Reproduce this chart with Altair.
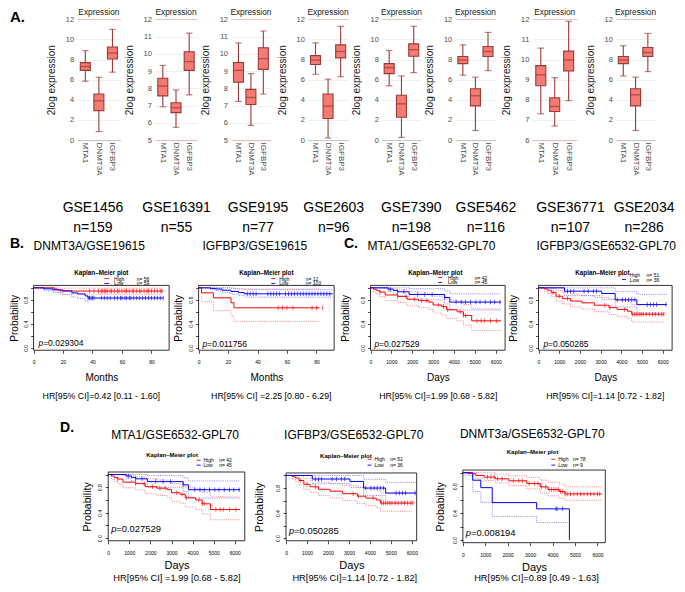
import altair as alt
import pandas as pd

# ============================ DATA ============================
genes = ["MTA1", "DNMT3A", "IGFBP3"]
gse_names = ["GSE1456", "GSE16391", "GSE9195", "GSE2603", "GSE7390", "GSE5462", "GSE36771", "GSE2034"]
gse_n = [159, 55, 77, 96, 198, 116, 107, 286]
y_floor = [0, 5, 5, 0, 0, 0, 6, 0]
# per dataset: values for [MTA1, DNMT3A, IGFBP3]
whisker_low = [[5.85, 0.85, 6.75], [6.93, 5.74, 7.62], [7.24, 5.85, 7.67], [6.54, 0.2, 6.3],
               [5.39, 0.27, 6.7], [6.45, 0.95, 6.9], [7.3, 6.7, 7.96], [6.37, 0.95, 6.8]]
box_q1 = [[6.93, 2.93, 8.05], [7.56, 6.59, 9.04], [8.36, 7.06, 9.1], [7.51, 2.15, 8.17],
          [6.6, 2.27, 8.33], [7.6, 3.4, 8.3], [8.7, 7.42, 9.44], [7.6, 3.4, 8.3]]
box_median = [[7.3, 3.9, 8.65], [8.13, 6.88, 9.55], [9.04, 7.47, 9.72], [7.95, 3.37, 8.8],
              [7.2, 3.6, 8.98], [7.95, 4.4, 8.8], [9.24, 7.67, 9.98], [7.95, 4.5, 8.7]]
box_q3 = [[7.7, 4.58, 9.25], [8.58, 7.16, 10.12], [9.5, 7.94, 10.35], [8.39, 4.58, 9.46],
          [7.6, 4.45, 9.56], [8.3, 5.1, 9.3], [9.7, 8.1, 10.42], [8.3, 5.1, 9.2]]
whisker_high = [[8.88, 6.24, 11.0], [9.33, 7.9, 11.2], [10.63, 8.85, 11.32], [9.66, 6.05, 11.3],
                [8.9, 6.37, 11.3], [9.46, 6.25, 10.7], [10.57, 9.1, 11.9], [9.37, 6.25, 10.6]]

# ---- Kaplan-Meier curves (time, survival, CI lower, CI upper, censor times) ----
# DNMT3A / GSE19615 (months)
b1_high_t = [0, 14, 16, 18, 88]
b1_high_s = [1.0, 0.982, 0.964, 0.946, 0.946]
b1_high_lo = [1.0, 0.95, 0.92, 0.895, 0.895]
b1_high_up = [1.0, 1.0, 1.0, 0.995, 0.995]
b1_high_cens = [38, 41, 44, 46, 47, 48, 49, 50, 52, 53, 55, 57, 58, 60, 62, 63, 65, 67, 68, 70,
                72, 73, 75, 77, 78, 80, 82, 84, 86, 87]
b1_low_t = [0, 7, 13, 20, 26, 30, 35, 37, 88]
b1_low_s = [1.0, 0.983, 0.966, 0.949, 0.915, 0.898, 0.864, 0.83, 0.83]
b1_low_ci_t = [0, 7, 13, 20, 26, 30, 35, 37]
b1_low_lo = [1.0, 0.95, 0.92, 0.89, 0.845, 0.82, 0.78, 0.74]
b1_low_cens = [37, 38, 39, 40, 41, 46, 48, 50, 52, 55, 57, 59, 60, 62, 63, 65, 66, 68, 70, 72,
               74, 76, 78, 80, 82, 84, 86, 88]
# IGFBP3 / GSE19615 (months)
b2_high_t = [0, 2, 10, 22, 24, 82]
b2_high_s = [1.0, 0.917, 0.833, 0.75, 0.667, 0.667]
b2_high_lo = [1.0, 0.77, 0.62, 0.53, 0.44, 0.44]
b2_high_up = [1.0, 1.0, 1.0, 1.0, 0.98, 0.98]
b2_high_cens = [54, 57, 60, 64, 77, 80, 84]
b2_low_t = [0, 8, 12, 16, 22, 27, 31, 91]
b2_low_s = [1.0, 0.99, 0.98, 0.96, 0.94, 0.92, 0.90, 0.90]
b2_low_lo = [1.0, 0.97, 0.95, 0.92, 0.895, 0.87, 0.845, 0.845]
b2_low_up = [1.0, 1.0, 1.0, 1.0, 0.99, 0.98, 0.97, 0.97]
b2_low_cens = [33, 35, 37, 39, 47, 49, 51, 53, 55, 59, 61, 63, 65, 67, 69, 71, 73, 75, 77, 79,
               81, 83, 85, 87, 89]
# MTA1 / GSE6532-GPL70 (days)
m_high_t = [0, 150, 300, 450, 700, 1300, 1750, 2300, 2800, 3000, 3400, 3650, 4150, 4450, 4850, 6250]
m_high_s = [1.0, 0.976, 0.952, 0.929, 0.881, 0.857, 0.81, 0.786, 0.762, 0.714, 0.69, 0.635, 0.60,
            0.54, 0.45, 0.45]
m_high_lo = [1.0, 0.93, 0.89, 0.855, 0.79, 0.76, 0.70, 0.67, 0.64, 0.58, 0.55, 0.49, 0.45, 0.38,
             0.29, 0.29]
m_high_up = [1.0, 1.0, 1.0, 1.0, 0.98, 0.965, 0.935, 0.915, 0.895, 0.86, 0.84, 0.80, 0.77, 0.72,
             0.65, 0.65]
m_high_cens = [450, 1300, 1700, 2100, 2450, 2700, 3250, 3500, 3700, 4300, 4450, 4550, 5100, 5300,
               5450, 5750, 6050]
m_low_t = [0, 850, 1100, 1300, 1850, 3550, 3800, 6250]
m_low_s = [1.0, 0.978, 0.956, 0.933, 0.889, 0.838, 0.762, 0.762]
m_low_lo = [1.0, 0.935, 0.90, 0.865, 0.80, 0.73, 0.63, 0.63]
m_low_up = [1.0, 1.0, 1.0, 1.0, 0.985, 0.95, 0.90, 0.90]
m_low_cens = [950, 1300, 1600, 2250, 2600, 2950, 3550, 4100, 4350, 4550, 4800, 5050, 5250, 5500,
              5750, 5950, 6200]
# IGFBP3 / GSE6532-GPL70 (days)
g_high_t = [0, 300, 450, 620, 850, 1150, 1550, 2100, 2700, 3400, 3800, 4300, 4500, 6050]
g_high_s = [1.0, 0.98, 0.96, 0.92, 0.86, 0.82, 0.78, 0.75, 0.71, 0.67, 0.64, 0.61, 0.56, 0.56]
g_high_lo = [1.0, 0.94, 0.905, 0.85, 0.78, 0.73, 0.68, 0.645, 0.60, 0.555, 0.52, 0.485, 0.43, 0.43]
g_high_up = [1.0, 1.0, 1.0, 0.99, 0.955, 0.925, 0.895, 0.87, 0.84, 0.81, 0.785, 0.765, 0.72, 0.72]
g_high_cens = [700, 1000, 1400, 3200, 3450, 4150, 4550, 4650, 4750, 4850, 4950, 5050, 5200, 5350,
               5500, 5650, 5800, 5950, 6050]
g_low_t = [0, 1250, 3050, 3700, 4750, 6200]
g_low_s = [1.0, 0.944, 0.905, 0.80, 0.72, 0.72]
g_low_lo = [1.0, 0.87, 0.81, 0.68, 0.58, 0.58]
g_low_up = [1.0, 1.0, 1.0, 0.94, 0.89, 0.89]
g_low_cens = [1400, 1550, 1700, 2200, 2400, 2650, 2800, 3800, 4050, 4200, 4350, 4500, 4650, 5250,
              5400, 5550, 5700, 6150]
# DNMT3a / GSE6532-GPL70 (days)
d_high_t = [0, 250, 580, 950, 1450, 2050, 2850, 3450, 3800, 4300, 4550, 6200]
d_high_s = [1.0, 0.987, 0.96, 0.935, 0.91, 0.88, 0.84, 0.79, 0.75, 0.72, 0.685, 0.685]
d_high_lo = [1.0, 0.96, 0.92, 0.885, 0.85, 0.81, 0.76, 0.70, 0.655, 0.62, 0.59, 0.59]
d_high_up = [1.0, 1.0, 1.0, 1.0, 0.98, 0.955, 0.93, 0.89, 0.86, 0.83, 0.79, 0.79]
d_high_cens = [1100, 1250, 1400, 1550, 1750, 2250, 2500, 2650, 2950, 3200, 3350, 3500, 3700, 3850,
               3950, 4050, 4150, 4250, 4350, 4450, 4550, 4650, 4800, 4950, 5100, 5250, 5400, 5550,
               5700, 5850, 6000, 6100]
d_low_t = [0, 440, 800, 1310, 3290, 4750]
d_low_s = [1.0, 0.889, 0.778, 0.556, 0.463, 0.0]
d_low_lo = [1.0, 0.72, 0.56, 0.35, 0.26, 0.26]
d_low_cens = [4150, 4200, 4450]

km_headers = ["DNMT3A/GSE19615", "IGFBP3/GSE19615", "MTA1/GSE6532-GPL70", "IGFBP3/GSE6532-GPL70",
              "MTA1/GSE6532-GPL70", "IGFBP3/GSE6532-GPL70", "DNMT3a/GSE6532-GPL70"]
km_pvalues = ["0.029304", "0.011756", "0.027529", "0.050285", "0.027529", "0.050285", "0.008194"]
km_hr = ["HR[95% CI]=0.42 [0.11 - 1.60]", "HR[95% CI] =2.25 [0.80 - 6.29]",
         "HR[95% CI]=1.99 [0.68 - 5.82]", "HR[95% CI]=1.14 [0.72 - 1.82]",
         "HR[95% CI] =1.99 [0.68 - 5.82]", "HR[95% CI]=1.14 [0.72 - 1.82]",
         "HR[95% CI]=0.89 [0.49 - 1.63]"]
km_n_high = [56, 12, 42, 51, 42, 51, 78]
km_n_low = [59, 103, 45, 36, 45, 36, 9]
prob_ticks = [0, 0.2, 0.4, 0.6, 0.8, 1.0]
day_ticks = [0, 1000, 2000, 3000, 4000, 5000, 6000]
month_ticks = [0, 20, 40, 60, 80]

# ============================ LAYOUT / STYLE ============================
FONT = "Liberation Sans"
W, H = 669, 576
RED, BLUE = "#FF0000", "#0000FF"
RED_CI, BLUE_CI = "#FF6A6A", "#6A6AFF"
BOX_FILL, BOX_DARK = "#F47B74", "#9E3A36"
PINK = "#F3B3B0"


def X(v):
    return round(-1.96 + 0.9824 * v, 2)


def Y(v):
    return round(-2.45 + 0.982 * v, 2)


ONE = pd.DataFrame({"k": [0]})

box_left = [72.4, 151.5, 229, 307.3, 382.5, 457.3, 535.8, 620.8]
box_width = [44.2, 43, 40.5, 41, 40, 41, 45.4, 40]
gse_center = [88, 173, 256, 333, 412, 488, 574, 649]
BOX_TOP, BOX_BOT = 14, 137


def txt(text, x, y, size, weight="normal", style="normal", align="left", baseline="middle",
        color="#000000"):
    return alt.Chart(ONE).mark_text(
        text=text, align=align, baseline=baseline, fontSize=size, fontWeight=weight,
        fontStyle=style, color=color, font=FONT
    ).encode(x=alt.value(X(x)), y=alt.value(Y(y)))


def dash(x0, x1, y, color):
    return alt.Chart(ONE).mark_rule(color=color, strokeWidth=0.9).encode(
        x=alt.value(X(x0)), x2=alt.value(X(x1)), y=alt.value(Y(y)))


def box_panel(i):
    df = pd.DataFrame({"gene": genes, "lo": whisker_low[i], "q1": box_q1[i],
                       "med": box_median[i], "q3": box_q3[i], "hi": whisker_high[i]})
    L, Wd = box_left[i], box_width[i]

    def xs():
        return alt.Scale(type="band", domain=genes, range=[X(L), X(L + Wd)],
                         paddingInner=0, paddingOuter=0.1)

    def ys():
        return alt.Scale(domain=[y_floor[i], 12], range=[Y(BOX_BOT), Y(BOX_TOP)],
                         nice=False, zero=False)

    step = 2 if y_floor[i] == 0 else 1
    ticks = list(range(y_floor[i], 13, step))
    base_col = "#BDBDBD" if y_floor[i] == 0 else PINK
    xaxis = alt.Axis(orient="bottom", offset=round(Y(BOX_BOT) - H, 2), labelAngle=90,
                     labelAlign="left", labelBaseline="middle", labelFontSize=8,
                     labelColor="#4D4D4D", labelPadding=2, ticks=False, domain=True,
                     domainColor=base_col, domainWidth=0.9,
                     title=[gse_names[i], "n=%d" % gse_n[i]],
                     titleFontSize=14, titleFontWeight="normal", titleColor="#000000",
                     titleBaseline="top", titleLineHeight=20, titleX=X(gse_center[i]),
                     titleY=round(Y(199) - Y(BOX_BOT), 2), labelFont=FONT, titleFont=FONT)
    yaxis = alt.Axis(orient="left", offset=-X(L), values=ticks, grid=True,
                     gridColor={"condition": {"test": "datum.value == 12", "value": PINK},
                                "value": "#EBEBEB"},
                     gridWidth=0.8, ticks=False, domain=False, labelFontSize=7.5,
                     labelColor="#4D4D4D", labelPadding=3.5, labelFlush=False,
                     labelOverlap=False, title="2log expression", titleFontSize=10,
                     titleFontWeight="normal", titleColor="#1A1A1A", titleAngle=270,
                     titleBaseline="middle", titleX=round(-26 * 0.9824, 2),
                     labelFont=FONT, titleFont=FONT)
    base = alt.Chart(df)
    whisk = base.mark_rule(color=BOX_DARK, strokeWidth=1.1).encode(
        x=alt.X("gene:N", scale=xs(), axis=xaxis),
        y=alt.Y("lo:Q", scale=ys(), axis=yaxis), y2="hi:Q")
    cap_lo = base.mark_tick(color=BOX_DARK, size=6.5, thickness=1.1).encode(
        x=alt.X("gene:N", scale=xs(), axis=None), y=alt.Y("lo:Q", scale=ys(), axis=None))
    cap_hi = base.mark_tick(color=BOX_DARK, size=6.5, thickness=1.1).encode(
        x=alt.X("gene:N", scale=xs(), axis=None), y=alt.Y("hi:Q", scale=ys(), axis=None))
    box = base.mark_bar(fill=BOX_FILL, stroke=BOX_DARK, strokeWidth=1.1, size=10).encode(
        x=alt.X("gene:N", scale=xs(), axis=None), y=alt.Y("q1:Q", scale=ys(), axis=None),
        y2="q3:Q")
    med = base.mark_tick(color=BOX_DARK, size=10, thickness=1.4).encode(
        x=alt.X("gene:N", scale=xs(), axis=None), y=alt.Y("med:Q", scale=ys(), axis=None))
    strip = txt("Expression", L + Wd / 2, 7.5, 8.3, align="center", color="#1A1A1A")
    return [whisk, cap_lo, cap_hi, box, med, strip]


def step_value(ts, ss, t):
    v = ss[0]
    for ti, si in zip(ts, ss):
        if ti <= t:
            v = si
        else:
            break
    return v


def curve(t, s, cens, color, ci_color, lo=None, up=None, ci_t=None):
    return dict(t=t, s=s, cens=cens, color=color, ci_color=ci_color, lo=lo, up=up,
                ci_t=ci_t if ci_t is not None else t)


km_curves = [
    [curve(b1_high_t, b1_high_s, b1_high_cens, RED, RED_CI, b1_high_lo, b1_high_up),
     curve(b1_low_t, b1_low_s, b1_low_cens, BLUE, BLUE_CI, b1_low_lo, None, b1_low_ci_t)],
    [curve(b2_high_t, b2_high_s, b2_high_cens, RED, RED_CI, b2_high_lo, b2_high_up),
     curve(b2_low_t, b2_low_s, b2_low_cens, BLUE, BLUE_CI, b2_low_lo, b2_low_up)],
    [curve(m_high_t, m_high_s, m_high_cens, RED, RED_CI, m_high_lo, m_high_up),
     curve(m_low_t, m_low_s, m_low_cens, BLUE, BLUE_CI, m_low_lo, m_low_up)],
    [curve(g_high_t, g_high_s, g_high_cens, RED, RED_CI, g_high_lo, g_high_up),
     curve(g_low_t, g_low_s, g_low_cens, BLUE, BLUE_CI, g_low_lo, g_low_up)],
    [curve(m_high_t, m_high_s, m_high_cens, RED, RED_CI, m_high_lo, m_high_up),
     curve(m_low_t, m_low_s, m_low_cens, BLUE, BLUE_CI, m_low_lo, m_low_up)],
    [curve(g_high_t, g_high_s, g_high_cens, RED, RED_CI, g_high_lo, g_high_up),
     curve(g_low_t, g_low_s, g_low_cens, BLUE, BLUE_CI, g_low_lo, g_low_up)],
    [curve(d_high_t, d_high_s, d_high_cens, RED, RED_CI, d_high_lo, d_high_up),
     curve(d_low_t, d_low_s, d_low_cens, BLUE, BLUE_CI, d_low_lo, None)],
]

BC = dict(y0=285, y1=351, xty=28, tsize=6.3, lsize=5, psize=8.5, hrsize=8.8, ytsize=10, xtsize=10)
DD = dict(xty=25, tsize=6, lsize=5, psize=9.4, hrsize=9.3, ytsize=10.5, xtsize=11)
km_layout = [
    dict(BC, x0=28, x1=166, xmax=92, xticks=month_ticks, xtitle="Months", ytx=-19,
         header=(28, 245), title=(97, 272), leg=(100, 105, 110, 133, 278, 283), p=(33, 344),
         hr=(97, 398)),
    dict(BC, x0=196, x1=334, xmax=92, xticks=month_ticks, xtitle="Months", ytx=-20,
         header=(200, 245), title=(265, 272), leg=(270, 274, 278, 305, 278, 283), p=(200, 345),
         hr=(270, 398)),
    dict(BC, x0=371, x1=508, xmax=6450, xticks=day_ticks, xtitle="Days", ytx=-25,
         header=(368, 245), title=(437, 272), leg=(440, 444, 450, 477, 277, 282), p=(375, 345),
         hr=(440, 398)),
    dict(BC, x0=542, x1=678, xmax=6450, xticks=day_ticks, xtitle="Days", ytx=-25,
         header=(540, 245), title=(607, 272), leg=(627, 631, 635, 652, 274, 279), p=(547, 345),
         hr=(610, 398)),
    dict(DD, x0=104, x1=243, y0=475, y1=545, xmax=6470, xticks=day_ticks, xtitle="Days", ytx=-21,
         header=(107, 437), title=(169, 458), leg=(194, 198, 201, 217, 463, 468), p=(107, 533),
         hr=(174, 583)),
    dict(DD, x0=285, x1=418, y0=476, y1=545, xmax=6230, xticks=day_ticks, xtitle="Days", ytx=-27,
         header=(283, 437), title=(346, 459), leg=(368, 372, 375, 391, 462, 468), p=(288, 535),
         hr=(355, 583)),
    dict(DD, x0=465, x1=610, y0=473, y1=547, xmax=6350, xticks=day_ticks, xtitle="Days", ytx=-23,
         header=(462, 436), title=(536, 455), leg=(555, 559, 562, 577, 462, 468), p=(468, 537),
         hr=(540, 583)),
]


def km_panel(k):
    P = km_layout[k]

    def xs():
        return alt.Scale(domain=[0, P["xmax"]], range=[X(P["x0"]), X(P["x1"])],
                         nice=False, zero=False)

    def ys():
        return alt.Scale(domain=[-0.04, 1.04], range=[Y(P["y1"]), Y(P["y0"])],
                         nice=False, zero=False)

    xaxis = alt.Axis(orient="bottom", offset=round(Y(P["y1"]) - H, 2), values=P["xticks"],
                     format="d", ticks=True, tickSize=3, tickColor="#000000", tickWidth=0.7,
                     domain=False, labelFontSize=5, labelColor="#000000", labelPadding=6.5,
                     labelFlush=False, labelOverlap=False, title=P["xtitle"],
                     titleFontSize=P["xtsize"], titleFontWeight="normal", titleColor="#000000",
                     titleBaseline="middle", titleY=round(P["xty"] * 0.982, 2),
                     labelFont=FONT, titleFont=FONT)
    yaxis = alt.Axis(orient="left", offset=-X(P["x0"]), values=prob_ticks,
                     labelExpr="(datum.value == 0 || datum.value == 0.4 || datum.value == 0.8) ? format(datum.value, '.1f') : ''",
                     ticks=True, tickSize=3, tickColor="#000000", tickWidth=0.7, domain=False,
                     labelAngle=270, labelAlign="center", labelBaseline="bottom",
                     labelFontSize=5, labelColor="#000000", labelPadding=2.5, labelFlush=False,
                     labelOverlap=False, title="Probability", titleFontSize=P["ytsize"],
                     titleFontWeight="normal", titleColor="#000000", titleAngle=270,
                     titleBaseline="middle", titleX=round(P["ytx"] * 0.9824, 2),
                     labelFont=FONT, titleFont=FONT)
    layers = []
    frame = alt.Chart(ONE).mark_rect(fill="transparent", stroke="#000000", strokeWidth=0.8).encode(
        x=alt.XDatum(0, type="quantitative", scale=xs(), axis=xaxis),
        x2=alt.X2Datum(P["xmax"]),
        y=alt.YDatum(-0.04, type="quantitative", scale=ys(), axis=yaxis),
        y2=alt.Y2Datum(1.04))
    layers.append(frame)
    for c in km_curves[k]:
        for ci in (c["lo"], c["up"]):
            if ci is None:
                continue
            cdf = pd.DataFrame({"t": c["ci_t"], "s": ci})
            layers.append(alt.Chart(cdf).mark_line(
                interpolate="step-after", color=c["ci_color"], strokeWidth=0.8,
                strokeDash=[1, 1.2]).encode(
                x=alt.X("t:Q", scale=xs(), axis=None), y=alt.Y("s:Q", scale=ys(), axis=None)))
    for c in km_curves[k]:
        df = pd.DataFrame({"t": c["t"], "s": c["s"]})
        layers.append(alt.Chart(df).mark_line(
            interpolate="step-after", color=c["color"], strokeWidth=1).encode(
            x=alt.X("t:Q", scale=xs(), axis=None), y=alt.Y("s:Q", scale=ys(), axis=None)))
        cens_df = pd.DataFrame({"t": c["cens"],
                                "s": [step_value(c["t"], c["s"], t) for t in c["cens"]]})
        layers.append(alt.Chart(cens_df).mark_tick(
            orient="vertical", size=4.5, thickness=0.9, color=c["color"]).encode(
            x=alt.X("t:Q", scale=xs(), axis=None), y=alt.Y("s:Q", scale=ys(), axis=None)))

    hx, hy = P["header"]
    tx, ty = P["title"]
    d0, d1, lx, nx, yh, yl = P["leg"]
    px, py = P["p"]
    rx, ry = P["hr"]
    layers += [
        txt(km_headers[k], hx, hy, 12),
        txt("Kaplan\u2013Meier plot", tx, ty, P["tsize"], weight="bold", align="center"),
        dash(d0, d1, yh, RED), dash(d0, d1, yl, BLUE),
        txt("High", lx, yh, P["lsize"]), txt("Low", lx, yl, P["lsize"]),
        txt("n= %d" % km_n_high[k], nx, yh, P["lsize"]),
        txt("n= %d" % km_n_low[k], nx, yl, P["lsize"]),
        txt("p", px, py, P["psize"], style="italic"),
        txt("=" + km_pvalues[k], px + P["psize"] * 0.56, py, P["psize"]),
        txt(km_hr[k], rx, ry, P["hrsize"], align="center"),
    ]
    return layers


all_layers = []
for i in range(len(gse_names)):
    all_layers += box_panel(i)
for k in range(len(km_layout)):
    all_layers += km_panel(k)
all_layers += [
    txt("A.", 4, 12, 15, weight="bold"),
    txt("B.", 4, 243, 14, weight="bold"),
    txt("C.", 344, 243, 14, weight="bold"),
    txt("D.", 55, 430, 14, weight="bold"),
]

chart = alt.layer(*all_layers).resolve_scale(
    x="independent", y="independent"
).properties(
    width=W, height=H, padding=0, autosize=alt.AutoSizeParams(type="none")
).configure_view(stroke="transparent")

chart.save("out.html", embed_options={"renderer": "svg", "actions": False})
